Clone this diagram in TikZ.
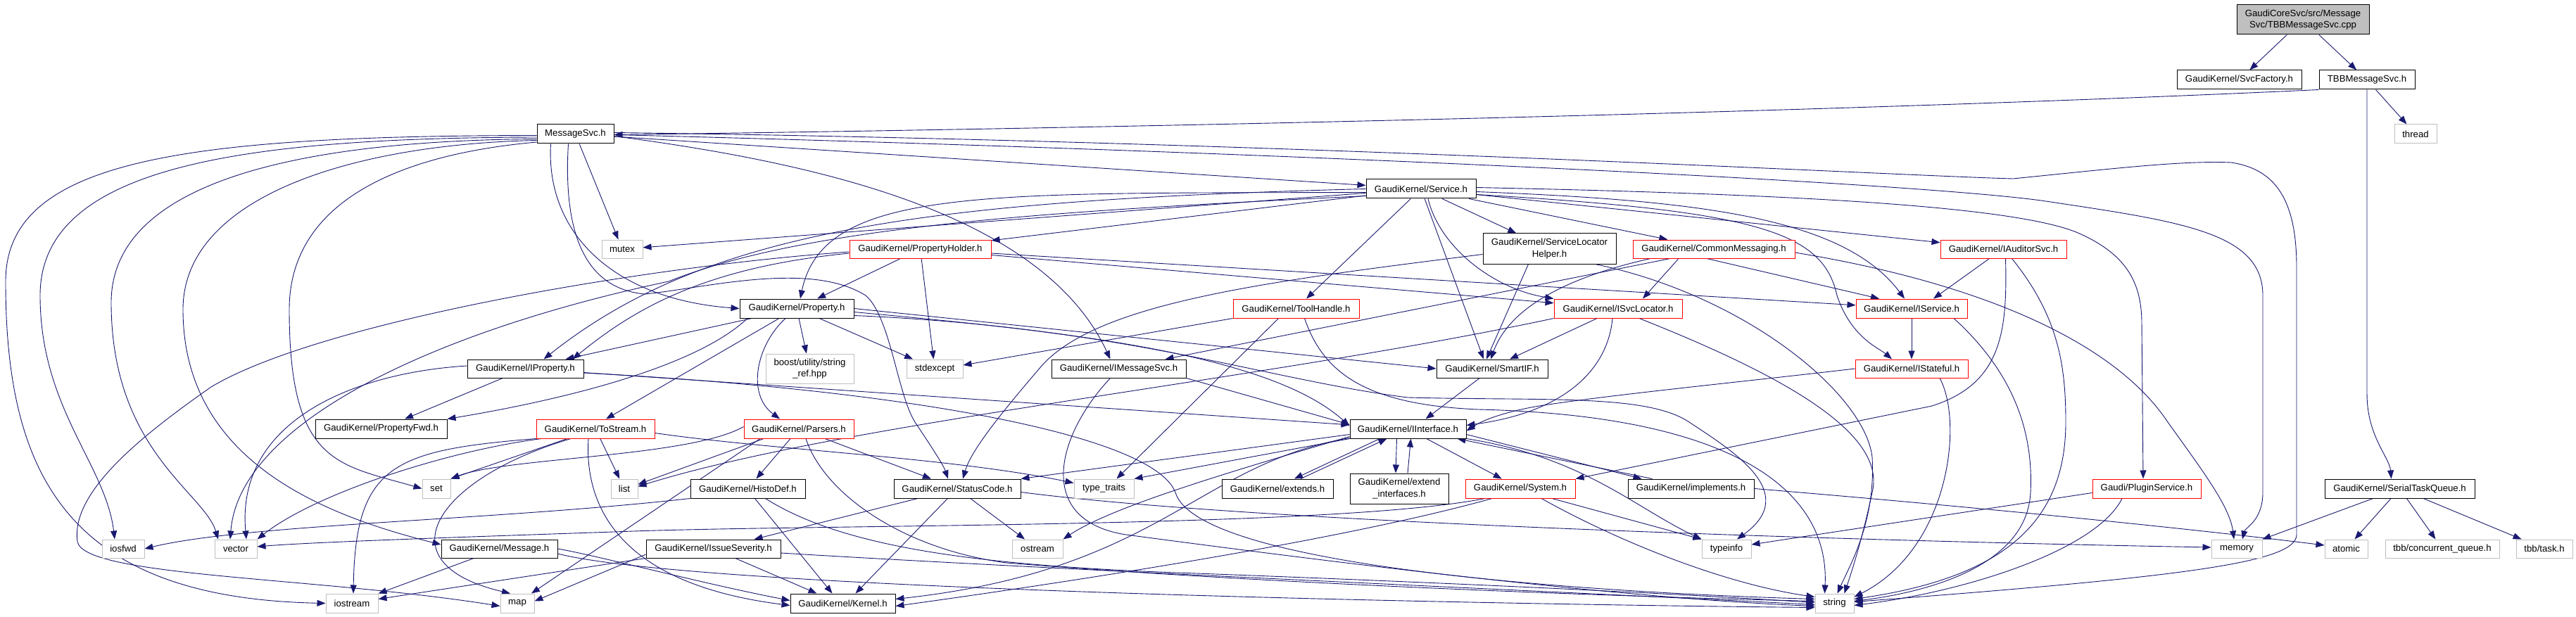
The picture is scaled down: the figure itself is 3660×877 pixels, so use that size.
\documentclass[tikz,border=0pt]{standalone}
\usepackage{fontspec}
\setmainfont{Liberation Sans}
\usetikzlibrary{arrows.meta}
\definecolor{edgec}{HTML}{191970}
\definecolor{grayb}{HTML}{BFBFBF}
\definecolor{redb}{HTML}{FF0000}
\newcommand\nfs{\fontsize{13.2}{16.5}\selectfont}
\pgfdeclarelayer{edgelayer}
\pgfsetlayers{edgelayer,main}
\begin{document}
\begin{tikzpicture}[x=1pt,y=-1pt,
  nb/.style={rectangle,draw=black,fill=white,line width=1pt,inner sep=0pt,font=\nfs,align=center},
  nr/.style={nb,draw=redb},
  ng/.style={nb,draw=grayb},
  nroot/.style={nb,fill=grayb},
  edg/.style={draw=edgec,line width=0.9pt,-{Triangle[length=12pt,width=9pt]}}]
\useasboundingbox (0,0) rectangle (3660,877);
% nodes
\node[nroot,minimum width=188pt,minimum height=42pt] (cpp) at (3272,28) {GaudiCoreSvc/src/Message\\Svc/TBBMessageSvc.cpp};
\node[nb,minimum width=177pt,minimum height=27pt] (svcf) at (3181.5,113.5) {GaudiKernel/SvcFactory.h};
\node[nb,minimum width=136pt,minimum height=27pt] (tbbh) at (3363,113.5) {TBBMessageSvc.h};
\node[ng,minimum width=60pt,minimum height=27pt] (thread) at (3432,190.5) {thread};
\node[nb,minimum width=109pt,minimum height=27pt] (msvc) at (817.5,190.5) {MessageSvc.h};
\node[nb,minimum width=156pt,minimum height=27pt] (service) at (2019,268.5) {GaudiKernel/Service.h};
\node[ng,minimum width=58pt,minimum height=26pt] (mutex) at (884,354) {mutex};
\node[nr,minimum width=201pt,minimum height=26pt] (pholder) at (1307.5,354) {GaudiKernel/PropertyHolder.h};
\node[nb,minimum width=189pt,minimum height=43pt] (slh) at (2201.5,353.5) {GaudiKernel/ServiceLocator\\Helper.h};
\node[nr,minimum width=230pt,minimum height=26pt] (cmsg) at (2435,354) {GaudiKernel/CommonMessaging.h};
\node[nr,minimum width=179pt,minimum height=26pt] (iaud) at (2846.5,354) {GaudiKernel/IAuditorSvc.h};
\node[nb,minimum width=162pt,minimum height=27pt] (property) at (1132,438.5) {GaudiKernel/Property.h};
\node[nr,minimum width=179pt,minimum height=27pt] (toolh) at (1841.5,438.5) {GaudiKernel/ToolHandle.h};
\node[nr,minimum width=182pt,minimum height=27pt] (isvcl) at (2299,438.5) {GaudiKernel/ISvcLocator.h};
\node[nr,minimum width=158pt,minimum height=27pt] (iserv) at (2716,438.5) {GaudiKernel/IService.h};
\node[nb,minimum width=165pt,minimum height=26pt] (iprop) at (746.5,524) {GaudiKernel/IProperty.h};
\node[ng,minimum width=125pt,minimum height=42pt] (boost) at (1150.5,524) {boost/utility/string\\\_ref.hpp};
\node[ng,minimum width=80pt,minimum height=26pt] (stdexc) at (1328,524) {stdexcept};
\node[nb,minimum width=191pt,minimum height=26pt] (imsg) at (1589.5,524) {GaudiKernel/IMessageSvc.h};
\node[nb,minimum width=158pt,minimum height=26pt] (smartif) at (2120,524) {GaudiKernel/SmartIF.h};
\node[nr,minimum width=160pt,minimum height=26pt] (istate) at (2716,524) {GaudiKernel/IStateful.h};
\node[nb,minimum width=187pt,minimum height=27pt] (pfwd) at (541.5,609.5) {GaudiKernel/PropertyFwd.h};
\node[nr,minimum width=168pt,minimum height=27pt] (tostream) at (846,609.5) {GaudiKernel/ToStream.h};
\node[nr,minimum width=156pt,minimum height=27pt] (parsers) at (1135,609.5) {GaudiKernel/Parsers.h};
\node[nb,minimum width=165pt,minimum height=27pt] (iinter) at (2000.5,609.5) {GaudiKernel/IInterface.h};
\node[ng,minimum width=40pt,minimum height=27pt] (set) at (620,694.5) {set};
\node[ng,minimum width=38pt,minimum height=27pt] (list) at (887,694.5) {list};
\node[nb,minimum width=163pt,minimum height=27pt] (histo) at (1062.5,694.5) {GaudiKernel/HistoDef.h};
\node[nb,minimum width=180pt,minimum height=27pt] (status) at (1360,694.5) {GaudiKernel/StatusCode.h};
\node[ng,minimum width=85pt,minimum height=27pt] (ttraits) at (1568.5,694.5) {type\_traits};
\node[nb,minimum width=158pt,minimum height=27pt] (extends) at (1815,694.5) {GaudiKernel/extends.h};
\node[nb,minimum width=140pt,minimum height=43pt] (extint) at (1988,694.5) {GaudiKernel/extend\\\_interfaces.h};
\node[nr,minimum width=156pt,minimum height=27pt] (system) at (2160,694.5) {GaudiKernel/System.h};
\node[nb,minimum width=179pt,minimum height=27pt] (impl) at (2402.5,694.5) {GaudiKernel/implements.h};
\node[nr,minimum width=154pt,minimum height=27pt] (plugin) at (3050,694.5) {Gaudi/PluginService.h};
\node[nb,minimum width=213pt,minimum height=27pt] (stq) at (3409.5,694.5) {GaudiKernel/SerialTaskQueue.h};
\node[ng,minimum width=60pt,minimum height=26pt] (iosfwd) at (175,780) {iosfwd};
\node[ng,minimum width=60pt,minimum height=26pt] (vector) at (335,780) {vector};
\node[nb,minimum width=165pt,minimum height=26pt] (message) at (709.5,780) {GaudiKernel/Message.h};
\node[nb,minimum width=191pt,minimum height=26pt] (isev) at (1013.5,780) {GaudiKernel/IssueSeverity.h};
\node[ng,minimum width=72pt,minimum height=26pt] (ostream) at (1474,780) {ostream};
\node[ng,minimum width=70pt,minimum height=26pt] (typeinfo) at (2453,780) {typeinfo};
\node[ng,minimum width=72pt,minimum height=26pt] (memory) at (3178,780) {memory};
\node[ng,minimum width=61pt,minimum height=26pt] (atomic) at (3333.5,780) {atomic};
\node[ng,minimum width=162pt,minimum height=26pt] (cq) at (3470,780) {tbb/concurrent\_queue.h};
\node[ng,minimum width=80pt,minimum height=26pt] (task) at (3615,780) {tbb/task.h};
\node[ng,minimum width=74pt,minimum height=27pt] (iostream) at (500,857.5) {iostream};
\node[ng,minimum width=48pt,minimum height=27pt] (map) at (735,857.5) {map};
\node[nb,minimum width=149pt,minimum height=27pt] (kernel) at (1197.5,857.5) {GaudiKernel/Kernel.h};
\node[ng,minimum width=55pt,minimum height=27pt] (string) at (2606.5,857.5) {string};

\begin{pgfonlayer}{edgelayer}
\fill[white] (0,0) rectangle (3660,877);
% top
\draw[edg] (cpp) -- (svcf);
\draw[edg] (cpp) -- (tbbh);
\draw[edg] (tbbh) -- (thread);
\draw[edg] (tbbh.south west) .. controls (2600,160) and (1600,182) .. ([yshift=-1pt]msvc.east);
\draw[edg] (tbbh.south) -- (3363,560) .. controls (3363,620) and (3395,650) .. ([xshift=-12pt]stq.north);
\draw[edg] (stq) -- (memory);
\draw[edg] (stq) -- (atomic);
\draw[edg] (stq) -- (cq);
\draw[edg] (stq) -- (task);
% MessageSvc
\draw[edg] (msvc) -- (service);
\draw[edg] (msvc) -- (mutex);
\draw[edg] ([xshift=-35pt]msvc.south) .. controls (775,330) and (870,425) .. (property.west);
\draw[edg] ([xshift=-10pt]msvc.south) .. controls (800,330) and (830,410) .. (916,418) .. controls (1000,410) and (1150,370) .. (1230,420) .. controls (1265,450) and (1275,560) .. (1300,600) .. controls (1320,630) and (1340,660) .. ([xshift=-13pt]status.north);
\draw[edg] ([yshift=-3pt]msvc.east) .. controls (1150,230) and (1480,300) .. ([xshift=-12pt]imsg.north);
\draw[edg] ([yshift=-2pt]msvc.west) .. controls (250,193) and (8,230) .. (8,400) .. controls (8,680) and (100,850) .. (iostream.west);
\draw[edg] ([yshift=-4.5pt]msvc.west) .. controls (330,196) and (57,240) .. (57,420) .. controls (57,580) and (150,660) .. ([xshift=-12pt]iosfwd.north);
\draw[edg] ([yshift=-7pt]msvc.west) .. controls (420,200) and (158,260) .. (158,430) .. controls (158,640) and (290,700) .. ([xshift=-25pt]vector.north);
\draw[edg] ([yshift=-9pt]msvc.west) .. controls (500,205) and (260,280) .. (260,440) .. controls (260,650) and (450,730) .. ([yshift=6pt]message.west);
\draw[edg] ([yshift=-11.5pt]msvc.west) .. controls (560,220) and (411,290) .. (411,440) .. controls (411,660) and (480,660) .. (set.west);
\draw[edg] ([yshift=2pt]msvc.east) .. controls (1800,200) and (2700,250) .. (2860,254) .. controls (3000,240) and (3100,228) .. (3170,231) .. controls (3230,240) and (3263,280) .. (3263,380) -- (3263,760) .. controls (3263,800) and (3100,820) .. ([yshift=2pt]string.east);
\draw[edg] ([yshift=-1pt]msvc.east) .. controls (1800,215) and (2700,258) .. (2900,285) .. controls (3100,315) and (3215,330) .. (3215,420) -- (3215,700) .. controls (3215,740) and (3190,750) .. ([xshift=8pt]memory.north);
% Service
\draw[edg] (service) -- (iaud);
\draw[edg] (service) -- (slh);
\draw[edg] (service) -- (cmsg);
\draw[edg] ([yshift=-4pt]service.east) .. controls (2420,285) and (2620,310) .. ([xshift=-10pt]iserv.north);
\draw[edg] ([yshift=-8pt]service.east) .. controls (2500,300) and (2590,330) .. (2610,420) .. controls (2630,480) and (2670,495) .. ([xshift=-28pt]istate.north);
\draw[edg] (service.west) .. controls (1300,285) and (1000,330) .. ([xshift=26pt]iprop.north);
\draw[edg] ([yshift=-5pt]service.west) .. controls (1400,275) and (1170,265) .. ([xshift=5pt]property.north);
\draw[edg] (service) -- (pholder);
\draw[edg] (service) -- (mutex);
\draw[edg] (service) -- (toolh);
\draw[edg] (service) -- ([xshift=-12pt]smartif.north);
\draw[edg] ([xshift=10pt]service.south) .. controls (2045,350) and (2120,410) .. (isvcl.north west);
\draw[edg] ([yshift=2pt]service.east) .. controls (2500,275) and (2850,290) .. (2950,330) .. controls (3020,360) and (3043,400) .. (3043,460) -- ([xshift=-5pt]plugin.north);
\draw[edg] ([yshift=-10pt]service.west) .. controls (1500,300) and (1150,320) .. (950,400) .. controls (620,470) and (340,600) .. ([xshift=-8pt]vector.north);
% Property
\draw[edg] (property) -- ([xshift=57pt]iprop.north);
\draw[edg] (property) -- (boost);
\draw[edg] (property) -- (stdexc);
\draw[edg] ([xshift=-70pt]property.south) .. controls (980,530) and (760,575) .. (pfwd.north east);
\draw[edg] ([xshift=-25pt]property.south) -- ([xshift=15pt]tostream.north);
\draw[edg] ([xshift=-16pt]property.south) .. controls (1075,490) and (1060,560) .. ([xshift=-27pt]parsers.north);
\draw[edg] (property.east) -- (smartif.west);
\draw[edg] ([yshift=-5pt]property.east) .. controls (1500,470) and (1800,500) .. ([yshift=4pt]iinter.west);
\draw[edg] ([yshift=-10pt]property.east) .. controls (1600,465) and (1800,540) .. (2000,565) .. controls (2200,570) and (2340,560) .. (2400,600) .. controls (2460,640) and (2560,700) .. ([xshift=15pt]typeinfo.north);
% IProperty
\draw[edg] (iprop) -- (pfwd);
\draw[edg] (iprop) -- (iinter);
\draw[edg] ([yshift=4pt]iprop.west) .. controls (500,530) and (335,600) .. ([xshift=15pt]vector.north);
\draw[edg] ([yshift=-6pt]iprop.east) .. controls (1300,555) and (1640,620) .. (1670,700) .. controls (1700,800) and (2200,840) .. ([yshift=6pt]string.west);
% PropertyHolder
\draw[edg] (pholder) -- (property);
\draw[edg] ([yshift=-6pt]pholder.west) .. controls (1000,380) and (900,440) .. ([xshift=67pt]iprop.north);
\draw[edg] (pholder) -- (stdexc);
\draw[edg] (pholder) -- (isvcl);
\draw[edg] (pholder) -- (iserv);
\draw[edg] ([yshift=-4pt]pholder.west) .. controls (900,380) and (450,460) .. (300,550) .. controls (200,620) and (100,700) .. (110,770) .. controls (120,820) and (450,820) .. ([yshift=-4pt]map.west);
% IAuditorSvc, IService, IStateful
\draw[edg] ([xshift=-20pt]iaud.south) -- ([xshift=31pt]iserv.north);
\draw[edg] ([xshift=3pt]iaud.south) .. controls (2852,470) and (2845,545) .. (2745,577) -- (system.north east);
\draw[edg] ([xshift=12pt]iaud.south) .. controls (2925,450) and (2935,520) .. (2935,600) .. controls (2935,740) and (2850,820) .. ([yshift=6pt]string.east);
\draw[edg] (iserv) -- (istate);
\draw[edg] ([xshift=60pt]iserv.south) .. controls (2850,520) and (2890,600) .. (2885,700) .. controls (2880,800) and (2750,840) .. ([yshift=3pt]string.east);
\draw[edg] (istate.west) .. controls (2500,540) and (2300,560) .. (2200,575) .. controls (2150,582) and (2110,595) .. ([yshift=-3pt]iinter.east);
\draw[edg] ([xshift=40pt]istate.south) .. controls (2790,600) and (2770,780) .. ([yshift=9pt]string.east);
% ISvcLocator
\draw[edg] (isvcl) -- ([xshift=25pt]smartif.north);
\draw[edg] ([xshift=-8pt]isvcl.south) .. controls (2285,520) and (2230,585) .. ([yshift=5pt]iinter.east);
\draw[edg] (isvcl.south west) .. controls (1800,540) and (1200,600) .. ([yshift=3pt]list.east);
\draw[edg] ([xshift=30pt]isvcl.south) .. controls (2550,540) and (2680,620) .. (2660,700) .. controls (2645,770) and (2630,815) .. ([xshift=14pt]string.north);
\draw[edg] (smartif) -- ([xshift=25pt]iinter.north);
% ToolHandle
\draw[edg] (toolh.south west) -- ([yshift=5pt]stdexc.east);
\draw[edg] ([xshift=-25pt]toolh.south) -- ([xshift=18pt]ttraits.north);
\draw[edg] ([xshift=12pt]toolh.south) .. controls (1880,530) and (1940,575) .. (2100,582) .. controls (2450,590) and (2600,690) .. ([xshift=-14pt]string.north);
% ServiceLocatorHelper
\draw[edg] ([xshift=-30pt]slh.south) -- ([xshift=-8pt]smartif.north);
\draw[edg] ([yshift=-8pt]slh.west) .. controls (1800,400) and (1560,430) .. (1480,520) .. controls (1420,590) and (1380,640) .. ([xshift=8pt]status.north);
\draw[edg] ([xshift=65pt]slh.south) .. controls (2480,420) and (2650,560) .. (2660,650) .. controls (2665,740) and (2630,800) .. ([xshift=4pt]string.north);
% CommonMessaging
\draw[edg] ([xshift=-90pt]cmsg.south) .. controls (2200,400) and (2140,450) .. ([xshift=-2pt]smartif.north);
\draw[edg] ([xshift=-62pt]cmsg.south) -- ([xshift=66pt]imsg.north);
\draw[edg] ([xshift=-50pt]cmsg.south) -- ([xshift=35pt]isvcl.north);
\draw[edg] ([xshift=-10pt]cmsg.south) -- ([xshift=-46pt]iserv.north);
\draw[edg] ([yshift=-5pt]cmsg.east) .. controls (2800,400) and (3000,480) .. (3080,600) .. controls (3130,670) and (3168,720) .. ([xshift=-4pt]memory.north);
% StatusCode
\draw[edg] (status) -- ([xshift=58pt]isev.north);
\draw[edg] (status) -- ([xshift=18pt]kernel.north);
\draw[edg] (status) -- (ostream);
\draw[edg] ([yshift=-5pt]status.east) .. controls (1800,745) and (2700,770) .. ([yshift=2pt]memory.west);
% IssueSeverity
\draw[edg] (isev) -- ([xshift=-37pt]kernel.north);
\draw[edg] ([yshift=-8pt]isev.west) -- ([yshift=3pt]map.east);
\draw[edg] (isev.south west) -- ([yshift=6pt]iostream.east);
\draw[edg] ([yshift=-6pt]isev.east) .. controls (1500,810) and (2200,840) .. ([yshift=-2pt]string.west);
% Message
\draw[edg] (message) -- (iostream);
\draw[edg] (message.east) .. controls (850,790) and (1000,830) .. ([yshift=4pt]kernel.west);
\draw[edg] ([yshift=-7pt]message.east) .. controls (1000,840) and (2200,860) .. ([yshift=-6pt]string.west);
% HistoDef
\draw[edg] ([xshift=10pt]histo.south) -- ([xshift=-15pt]kernel.north);
\draw[edg] ([xshift=25pt]histo.south) .. controls (1200,780) and (1400,805) .. (1700,815) .. controls (2100,830) and (2400,845) .. ([yshift=1pt]string.west);
\draw[edg] (histo.south west) .. controls (700,740) and (350,745) .. (iosfwd.east);
% Parsers
\draw[edg] (parsers) -- (histo);
\draw[edg] (parsers) -- (status);
\draw[edg] ([xshift=-50pt]parsers.south) -- ([yshift=6pt]list.east);
\draw[edg] ([yshift=3pt]parsers.west) .. controls (980,650) and (720,650) .. (set.north east);
\draw[edg] ([xshift=-55pt]parsers.south) -- ([xshift=20pt]map.north);
\draw[edg] ([xshift=10pt]parsers.south) .. controls (1170,700) and (1280,780) .. (1430,800) .. controls (1800,830) and (2300,848) .. ([yshift=3pt]string.west);
% ToStream
\draw[edg] (tostream.south west) .. controls (560,640) and (505,660) .. ([xshift=2pt]iostream.north);
\draw[edg] ([xshift=8pt]tostream.south west) .. controls (640,640) and (450,700) .. (vector.north east);
\draw[edg] ([xshift=-40pt]tostream.south) -- (set.north east);
\draw[edg] (tostream) -- (list);
\draw[edg] ([xshift=-35pt]tostream.south) .. controls (620,680) and (540,800) .. ([xshift=-10pt]map.north);
\draw[edg] ([xshift=-10pt]tostream.south) .. controls (830,720) and (880,830) .. ([yshift=-3pt]kernel.west);
\draw[edg] ([yshift=-6pt]tostream.east) .. controls (1100,640) and (1350,650) .. ([yshift=8pt]ttraits.west);
% IInterface
\draw[edg] ([xshift=-40pt]iinter.south) -- ([xshift=24pt]extends.north);
\draw[edg] ([xshift=33pt]extends.north) -- ([xshift=-30pt]iinter.south);
\draw[edg] ([xshift=-16pt]iinter.south) -- ([xshift=-5pt]extint.north);
\draw[edg] ([xshift=12pt]extint.north) -- ([xshift=4pt]iinter.south);
\draw[edg] (iinter) -- (system);
\draw[edg] ([yshift=-8pt]iinter.east) -- ([xshift=-70pt]impl.north);
\draw[edg] ([xshift=-55pt]impl.north) -- ([xshift=70pt]iinter.south);
\draw[edg] (iinter.south east) .. controls (2250,650) and (2320,720) .. (typeinfo.north west);
\draw[edg] ([yshift=-8pt]iinter.west) -- (status.north east);
\draw[edg] ([yshift=-11pt]iinter.west) .. controls (1750,670) and (1580,720) .. (ostream.north east);
\draw[edg] (iinter.south west) -- (ttraits.north east);
\draw[edg] ([yshift=-13pt]iinter.west) .. controls (1700,660) and (1650,810) .. ([yshift=6pt]kernel.east);
% implements
\draw[edg] (impl.east) .. controls (2800,720) and (3100,750) .. ([yshift=5pt]atomic.west);
% System
\draw[edg] ([xshift=-40pt]system.south) .. controls (1900,770) and (1500,830) .. ([yshift=-4pt]kernel.east);
\draw[edg] ([xshift=45pt]system.south) -- (typeinfo.north west);
\draw[edg] ([xshift=30pt]system.south) .. controls (2300,770) and (2450,830) .. ([yshift=9pt]string.west);
\draw[edg] ([xshift=-50pt]system.south) .. controls (1900,750) and (1200,745) .. (900,755) .. controls (700,762) and (450,770) .. ([yshift=3pt]vector.east);
% PluginService
\draw[edg] ([yshift=-6pt]plugin.west) -- ([yshift=6pt]typeinfo.east);
\draw[edg] ([xshift=-35pt]plugin.south) .. controls (2980,780) and (2800,840) .. ([yshift=-3pt]string.east);
% IMessageSvc
\draw[edg] (imsg.south east) -- ([yshift=6pt]iinter.west);
\draw[edg] ([xshift=-12pt]imsg.south) .. controls (1500,620) and (1470,740) .. (1600,760) .. controls (1900,800) and (2300,850) .. ([yshift=-4pt]string.west);
\end{pgfonlayer}
\end{tikzpicture}
\end{document}
